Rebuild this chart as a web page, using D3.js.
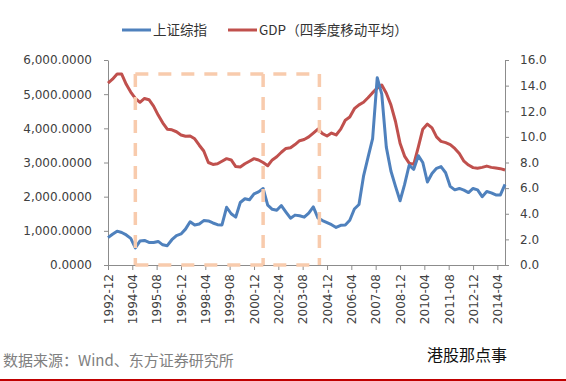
<!doctype html>
<html>
  <head>
    <meta charset="utf-8">
    <title>上证综指与GDP</title>
    <style>
      body { margin: 0; background: #fff; }
      .axis text { font-family: "DejaVu Sans", Verdana, sans-serif; font-size: 12px; fill: #404040; }
      .axis path, .axis line { stroke: #8c8c8c; }
      .cjk { font-family: "Noto Sans CJK SC", sans-serif; }
    </style>
    <script src="https://cdnjs.cloudflare.com/ajax/libs/d3/7.8.5/d3.min.js"></script>
  </head>
  <body>
    <div id="chart"></div>
    <script>
      // quarterly points
      const quarters = [
        "1992-12",
        "1993-03","1993-06","1993-09","1993-12",
        "1994-03","1994-06","1994-09","1994-12",
        "1995-03","1995-06","1995-09","1995-12",
        "1996-03","1996-06","1996-09","1996-12",
        "1997-03","1997-06","1997-09","1997-12",
        "1998-03","1998-06","1998-09","1998-12",
        "1999-03","1999-06","1999-09","1999-12",
        "2000-03","2000-06","2000-09","2000-12",
        "2001-03","2001-06","2001-09","2001-12",
        "2002-03","2002-06","2002-09","2002-12",
        "2003-03","2003-06","2003-09","2003-12",
        "2004-03","2004-06","2004-09","2004-12",
        "2005-03","2005-06","2005-09","2005-12",
        "2006-03","2006-06","2006-09","2006-12",
        "2007-03","2007-06","2007-09","2007-12",
        "2008-03","2008-06","2008-09","2008-12",
        "2009-03","2009-06","2009-09","2009-12",
        "2010-03","2010-06","2010-09","2010-12",
        "2011-03","2011-06","2011-09","2011-12",
        "2012-03","2012-06","2012-09","2012-12",
        "2013-03","2013-06","2013-09","2013-12",
        "2014-03","2014-06","2014-09"
      ];

      const shIndex = [
        800,
        900, 990, 950, 880,
        780, 500, 700, 720,
        660, 660, 690, 590,
        565, 740, 860, 910,
        1050, 1266, 1170, 1200,
        1300, 1290, 1230, 1180,
        1172, 1690, 1500, 1400,
        1830, 1940, 1910, 2080,
        2140, 2240, 1750, 1630,
        1600, 1740, 1550, 1370,
        1460, 1440, 1400, 1520,
        1700, 1380, 1300, 1240,
        1180, 1100, 1160, 1170,
        1310, 1640, 1770, 2600,
        3150, 3700, 5480, 5000,
        3450, 2750, 2300, 1880,
        2350, 2920, 2800, 3200,
        3000, 2430, 2680, 2830,
        2880, 2700, 2300, 2200,
        2240, 2190, 2120, 2240,
        2200, 2000, 2150, 2110,
        2050, 2050, 2360
      ];

      const gdpMA = [
        14.2,
        14.5, 14.9, 14.9, 14.1,
        13.5, 13.0, 12.7, 13.0,
        12.9, 12.4, 11.7, 11.1,
        10.6, 10.55, 10.4, 10.15,
        10.05, 10.07, 9.85, 9.35,
        8.9, 8.0, 7.85, 7.9,
        8.1, 8.3, 8.2, 7.68,
        7.65, 7.9, 8.1, 8.3,
        8.2, 8.0, 7.75, 8.2,
        8.45, 8.8, 9.1, 9.15,
        9.4, 9.7, 9.8, 10.0,
        10.3, 10.6, 10.25, 10.07,
        10.3, 10.15, 10.6, 11.3,
        11.55, 12.2, 12.5, 12.7,
        13.05, 13.45, 13.8, 14.05,
        13.4, 12.5, 11.2, 9.5,
        8.5, 7.95, 7.85, 9.2,
        10.6, 11.0, 10.7, 10.0,
        9.65, 9.55, 9.4, 9.1,
        8.7, 8.1, 7.8, 7.6,
        7.55, 7.62, 7.72, 7.62,
        7.57, 7.52, 7.42
      ];

      const xTickLabels = ["1992-12","1994-04","1995-08","1996-12","1998-04","1999-08","2000-12",
        "2002-04","2003-08","2004-12","2006-04","2007-08","2008-12","2010-04","2011-08","2012-12","2014-04"];
      const leftTicks = [0, 1000, 2000, 3000, 4000, 5000, 6000];
      const rightTicks = [0, 2, 4, 6, 8, 10, 12, 14, 16];

      const seriesNames = ["上证综指", "GDP（四季度移动平均）"];
      // dashed boxes: two periods, top edge on the right axis
      const boxDates = ["1994-06", "2001-06", "2004-07"];
      const boxTop = 14.9;

      const W = 566, H = 381;
      const plotL = 108, plotR = 505, plotT = 60, plotB = 265;
      const parse = d3.timeParse("%Y-%m");

      const svg = d3.select("#chart").append("svg")
        .attr("width", W).attr("height", H);

      const x = d3.scaleTime()
        .domain([parse(quarters[0]), parse(quarters[quarters.length - 1])])
        .range([plotL, plotR]);
      const yL = d3.scaleLinear().domain([0, 6000]).range([plotB, plotT]);
      const yR = d3.scaleLinear().domain([0, 16]).range([plotB, plotT]);

      // axes
      svg.append("g").attr("class", "axis")
        .attr("transform", `translate(${plotL},0)`)
        .call(d3.axisLeft(yL).tickValues(leftTicks).tickFormat(d3.format(",.4f"))
          .tickSizeInner(4).tickSizeOuter(0).tickPadding(12));

      svg.append("g").attr("class", "axis")
        .attr("transform", `translate(${plotR},0)`)
        .call(d3.axisRight(yR).tickValues(rightTicks).tickFormat(d3.format(".1f"))
          .tickSizeInner(4).tickSizeOuter(0).tickPadding(11));

      const xa = svg.append("g").attr("class", "axis")
        .attr("transform", `translate(0,${plotB})`)
        .call(d3.axisBottom(x).tickValues(xTickLabels.map(parse))
          .tickFormat(d3.timeFormat("%Y-%m")).tickSizeInner(5).tickSizeOuter(0));
      xa.selectAll("text")
        .attr("transform", "rotate(-90)")
        .attr("text-anchor", "end")
        .attr("x", -9).attr("y", 0).attr("dy", "0.36em");

      // lines
      const pts = quarters.map((q, i) => ({ d: parse(q), sh: shIndex[i], g: gdpMA[i] }));

      svg.append("path").datum(pts)
        .attr("fill", "none").attr("stroke", "#c0504d").attr("stroke-width", 3)
        .attr("stroke-linejoin", "round")
        .attr("d", d3.line().x(p => x(p.d)).y(p => yR(p.g)));

      svg.append("path").datum(pts)
        .attr("fill", "none").attr("stroke", "#4f81bd").attr("stroke-width", 3)
        .attr("stroke-linejoin", "round")
        .attr("d", d3.line().x(p => x(p.d)).y(p => yL(p.sh)));

      // dashed boxes
      const bx = boxDates.map(d => x(parse(d)));
      const dash = svg.append("g")
        .attr("fill", "none").attr("stroke", "#f8cbad").attr("stroke-width", 3.5)
        .attr("stroke-dasharray", "13,10");
      dash.append("line").attr("x1", bx[0]).attr("x2", bx[2]).attr("y1", yR(boxTop)).attr("y2", yR(boxTop));
      dash.append("line").attr("x1", bx[0]).attr("x2", bx[2]).attr("y1", yR(0)).attr("y2", yR(0));
      bx.forEach(v => {
        dash.append("line").attr("x1", v).attr("x2", v).attr("y1", yR(boxTop)).attr("y2", yR(0));
      });

      // legend
      const legend = svg.append("g");
      const legendItems = [
        { name: seriesNames[0], color: "#4f81bd", x0: 122 },
        { name: seriesNames[1], color: "#c0504d", x0: 228 }
      ];
      legendItems.forEach(it => {
        legend.append("line")
          .attr("x1", it.x0).attr("x2", it.x0 + 29).attr("y1", 30).attr("y2", 30)
          .attr("stroke", it.color).attr("stroke-width", 3);
        legend.append("text").attr("class", "cjk")
          .attr("x", it.x0 + 31).attr("y", 35)
          .attr("font-size", 13.5).attr("fill", "#333")
          .text(it.name);
      });

      // footer
      svg.append("text").attr("class", "cjk")
        .attr("x", 3).attr("y", 366).attr("font-size", 15).attr("fill", "#808080")
        .text("数据来源：Wind、东方证券研究所");
      svg.append("text").attr("class", "cjk")
        .attr("x", 427).attr("y", 361).attr("font-size", 16).attr("fill", "#111")
        .text("港股那点事");
      svg.append("line")
        .attr("x1", 0).attr("x2", W).attr("y1", 380).attr("y2", 380)
        .attr("stroke", "#c00000").attr("stroke-width", 2);
    </script>
  </body>
</html>
